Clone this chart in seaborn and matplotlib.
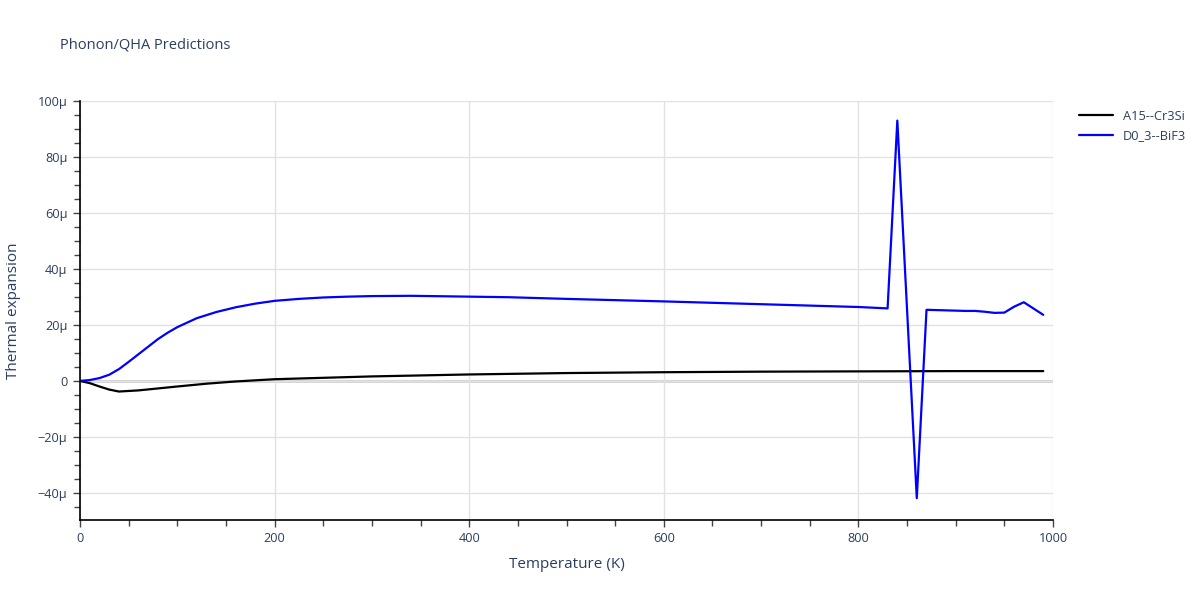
import numpy as np
import pandas as pd
import matplotlib
matplotlib.use("Agg")
import matplotlib.pyplot as plt
import seaborn as sns
from matplotlib.ticker import FuncFormatter, MultipleLocator

# temperatures (K) and thermal expansion (in micro units)
temp_cr3si = [0, 10, 20, 30, 40, 60, 80, 100, 130, 160, 200, 250, 300,
              400, 500, 600, 700, 800, 900, 990]
alpha_cr3si = [0, -0.8, -2.0, -3.1, -3.8, -3.4, -2.7, -2.0, -1.0, -0.2, 0.6,
               1.1, 1.6, 2.3, 2.8, 3.1, 3.3, 3.4, 3.5, 3.5]

temp_bif3 = [0, 10, 20, 30, 40, 50, 60, 70, 80, 90, 100, 120, 140, 160, 180,
             200, 225, 250, 275, 300, 340, 400, 440, 500, 600, 700, 800, 830,
             840, 850, 860, 870, 890, 910, 920, 930, 940, 950, 960, 970, 990]
alpha_bif3 = [0, 0.3, 1.0, 2.2, 4.2, 6.8, 9.5, 12.2, 14.9, 17.2, 19.2, 22.4,
              24.6, 26.3, 27.6, 28.6, 29.3, 29.8, 30.1, 30.3, 30.4, 30.1, 29.9,
              29.3, 28.4, 27.4, 26.4, 25.9, 93.0, 25.5, -41.9, 25.4, 25.2, 25.0,
              25.0, 24.7, 24.3, 24.4, 26.5, 28.1, 23.6]

names = ["A15--Cr3Si", "D0_3--BiF3"]
colors = ["#000000", "#0000ff"]

df = pd.concat([
    pd.DataFrame({"T": temp_cr3si, "alpha": alpha_cr3si, "material": names[0]}),
    pd.DataFrame({"T": temp_bif3, "alpha": alpha_bif3, "material": names[1]}),
])

sns.set_theme(style="white")
plt.rcParams["font.family"] = ["Open Sans", "DejaVu Sans"]
text_col = "#2a3f5f"

fig = plt.figure(figsize=(12, 6), dpi=100)
ax = fig.add_axes([80 / 1200, 80 / 600, 973 / 1200, 419 / 600])

sns.lineplot(data=df, x="T", y="alpha", hue="material", hue_order=names,
             palette=colors, linewidth=1.6, sort=False, estimator=None, ax=ax)

ax.set_xlim(0, 1000)
ax.set_ylim(-49.7, 100)
ax.xaxis.set_major_locator(MultipleLocator(200))
ax.xaxis.set_minor_locator(MultipleLocator(50))
ax.yaxis.set_major_locator(MultipleLocator(20))
ax.yaxis.set_minor_locator(MultipleLocator(5))


def fmt_micro(v, pos):
    if abs(v) < 1e-9:
        return "0"
    s = f"{abs(v):g}\u03bc"
    return ("\u2212" + s) if v < 0 else s


ax.yaxis.set_major_formatter(FuncFormatter(fmt_micro))

ax.grid(True, which="major", color="#e2e2e2", linewidth=1.0)
ax.axhline(0, color="#cfcfcf", linewidth=2.0, zorder=0.5)
for side in ["top", "right"]:
    ax.spines[side].set_visible(False)
for side in ["left", "bottom"]:
    ax.spines[side].set_color("black")
    ax.spines[side].set_linewidth(1.2)

ax.tick_params(axis="both", which="major", length=5, width=1, color="#444444",
               labelsize=9.2, labelcolor=text_col, direction="out",
               left=True, bottom=True, pad=4)
ax.tick_params(axis="both", which="minor", length=4, width=1, color="#444444",
               direction="out", left=True, bottom=True)

ax.set_xlabel("Temperature (K)", fontsize=11, color=text_col, labelpad=8)
ax.set_ylabel("Thermal expansion", fontsize=11, color=text_col, labelpad=12)

fig.text(60 / 1200, 1 - 45 / 600, "Phonon/QHA Predictions", fontsize=10.5,
         color=text_col, va="center", ha="left")

leg = ax.legend(loc="upper left", bbox_to_anchor=(1.018, 1.0), frameon=False,
                fontsize=9.2, handlelength=2.6, labelspacing=0.5,
                borderaxespad=0.3)
for t in leg.get_texts():
    t.set_color(text_col)

fig.savefig("out.png", dpi=100)
